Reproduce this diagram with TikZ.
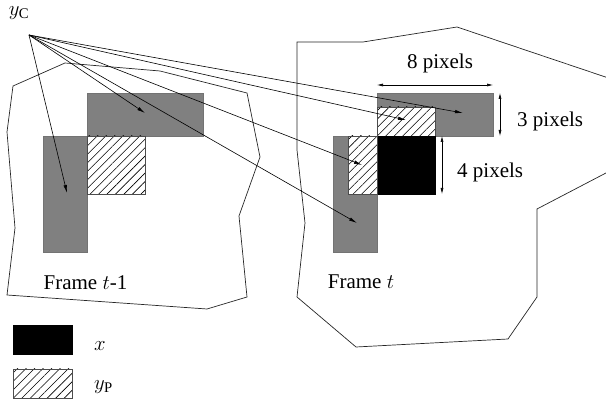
\documentclass[tikz,border=0pt]{standalone}
\usepackage{fontspec}
\setmainfont{Liberation Serif}
\newfontfamily\timesfont{Liberation Serif}
\usetikzlibrary{arrows.meta,patterns.meta}
\begin{document}
\begin{tikzpicture}[x=1pt,y=-1pt,
  lbl/.style={font=\timesfont\fontsize{21}{25}\selectfont, inner sep=0pt},
  frameline/.style={draw=black!85, line width=0.7pt},
  box/.style={inner sep=0pt, outer sep=0pt, line width=0.7pt},
  graybox/.style={box, draw=black!55, fill={rgb,255:red,128;green,128;blue,128}},
  blackbox/.style={box, draw=black, fill=black},
  hatchbox/.style={box, draw=black!70, preaction={fill=white},
    pattern={Lines[angle=45,distance=6pt,line width=0.6pt]}},
  conn/.style={-{Latex[length=8pt,width=3.5pt]}, line width=0.6pt},
  dimarrow/.style={{Latex[length=6pt,width=3pt]}-{Latex[length=6pt,width=3pt]}, line width=0.6pt}]
\useasboundingbox (0,0) rectangle (606,403);
\begin{scope}
\clip (0,0) rectangle (606,403);
% frame outlines
\draw[frameline] (13,86) -- (65,63) -- (160,71) -- (247,93) -- (260,157) -- (239,216)
  -- (247,297) -- (207,309) -- (7,295) -- (15,228) -- (7,132) -- cycle;
\draw[frameline] (297,42) -- (363,42) -- (457,27) -- (650,92) -- (650,150) -- (537,209)
  -- (537,297) -- (508,339) -- (356,347) -- (297,297) -- (305,223) -- (297,150) -- cycle;
\end{scope}
% frame t-1
\node[graybox, minimum width=116pt, minimum height=43pt] (ltop) at (145,114.5) {};
\node[graybox, minimum width=44pt, minimum height=116pt] (lleft) at (65,194) {};
\node[hatchbox, minimum width=58pt, minimum height=58pt] (lhat) at (116,165) {};
% frame t
\node[graybox, minimum width=116pt, minimum height=43pt] (rtop) at (435,114.5) {};
\node[hatchbox, minimum width=58pt, minimum height=29pt] (rhatT) at (406,121.5) {};
\node[graybox, minimum width=44pt, minimum height=116pt] (rleft) at (355,194) {};
\node[blackbox, minimum width=58pt, minimum height=58pt] (rblack) at (406,165) {};
\node[hatchbox, minimum width=29pt, minimum height=58pt] (rhatL) at (362.5,165) {};
% source label and arrows
\node[lbl] (yc) at (19,13) {$y_{\mathrm{C}}$};
\coordinate (src) at (29,35);
\coordinate (a1) at (67,193);
\coordinate (a2) at (145,113);
\coordinate (a3) at (463,113);
\coordinate (a4) at (406,120);
\coordinate (a5) at (362,165);
\coordinate (a6) at (357,223);
\foreach \t in {a1,a2,a3,a4,a5,a6} \draw[conn] (src) -- (\t);
% dimensions
\coordinate (d8a) at (377,85);
\coordinate (d8b) at (493,85);
\draw[dimarrow] (d8a) -- (d8b);
\node[lbl] (l8) at (440,63) {8 pixels};
\coordinate (d3a) at (500,93);
\coordinate (d3b) at (500,136);
\draw[dimarrow] (d3a) -- (d3b);
\node[lbl, anchor=west] (l3) at (517,121) {3 pixels};
\coordinate (d4a) at (442,136);
\coordinate (d4b) at (442,194);
\draw[dimarrow] (d4a) -- (d4b);
\node[lbl, anchor=west] (l4) at (457,172) {4 pixels};
% frame labels
\node[lbl] (ft1) at (85.5,283) {Frame $t$-1};
\node[lbl] (ft) at (361,282) {Frame $t$};
% legend
\node[blackbox, minimum width=59pt, minimum height=29pt] (legx) at (42.5,339.5) {};
\node[hatchbox, minimum width=59pt, minimum height=29pt] (legy) at (42.5,383.5) {};
\node[lbl, anchor=west] (legxl) at (94,346) {$x$};
\node[lbl, anchor=west] (legyl) at (94,387) {$y_{\mathrm{P}}$};
\end{tikzpicture}
\end{document}
